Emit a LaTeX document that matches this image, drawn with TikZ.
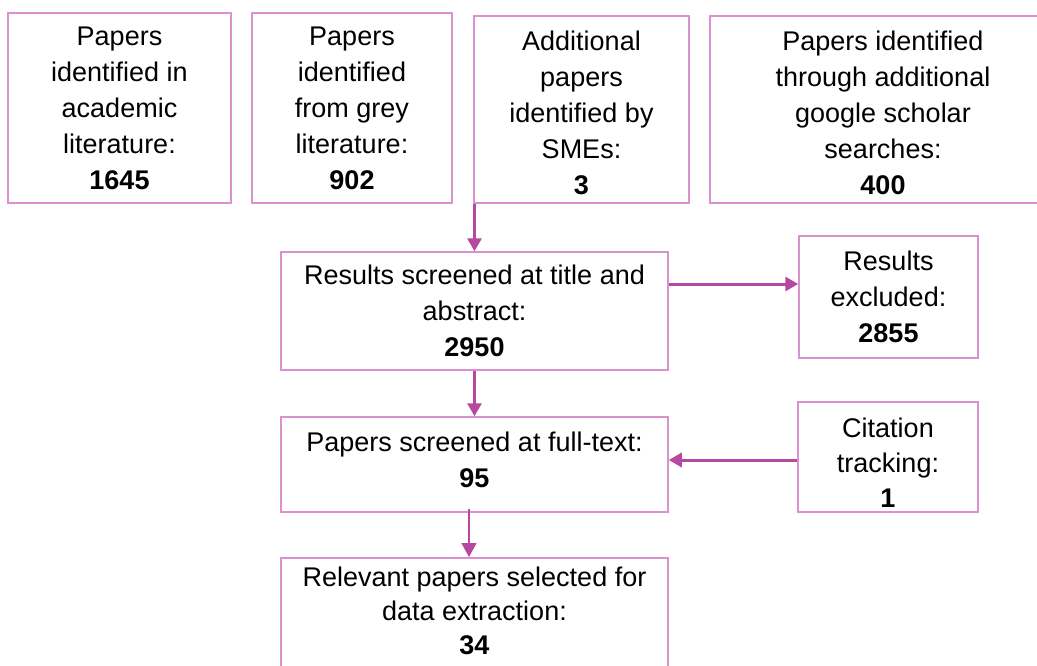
\documentclass[tikz,border=0pt]{standalone}
\usepackage{fontspec}
\setmainfont{Liberation Sans}
\usetikzlibrary{arrows.meta,calc}
\definecolor{boxline}{RGB}{218,145,205}
\definecolor{flowline}{RGB}{182,72,160}
\tikzset{
  box/.style={draw=boxline, line width=1.5pt, rectangle, inner sep=0pt,
    align=center, font=\fontsize{27}{36}\selectfont},
  tight/.style={font=\fontsize{27}{35}\selectfont},
  flow/.style={draw=flowline, line width=3pt,
    -{Triangle[width=14pt,length=13pt]}},
  thinflow/.style={draw=flowline, line width=1.6pt,
    -{Triangle[width=15pt,length=14pt]}},
}
\begin{document}
\begin{tikzpicture}[x=1pt,y=-1pt]
\clip (0,0) rectangle (1037,666);
\fill[white] (0,0) rectangle (1037,666);

% sources
\node[box, minimum width=223pt, minimum height=190pt] (acad) at (119.5,108)
  {Papers\\identified in\\academic\\literature:\\\textbf{1645}};
\node[box, minimum width=200pt, minimum height=190pt] (grey) at (352,108)
  {Papers\\identified\\from grey\\literature:\\\textbf{902}};
\node[box, minimum width=215pt, minimum height=187pt, text height=170pt] (smes) at (581.5,109.5)
  {Additional\\papers\\identified by\\SMEs:\\\textbf{3}};
\node[box, minimum width=346pt, minimum height=187pt, text height=170pt] (scholar) at (883,109.5)
  {Papers identified\\through additional\\google scholar\\searches:\\\textbf{400}};

% screening stages
\node[box, minimum width=387pt, minimum height=118pt] (title) at (474.5,311)
  {Results screened at title and\\abstract:\\\textbf{2950}};
\node[box, minimum width=179pt, minimum height=122pt] (excl) at (888.5,297)
  {Results\\excluded:\\\textbf{2855}};
\node[box, minimum width=387pt, minimum height=95pt, text depth=10pt] (full) at (474.5,464.5)
  {Papers screened at full-text:\\\textbf{95}};
\node[box, tight, minimum width=180pt, minimum height=110pt, text height=100pt] (cite) at (888,457)
  {Citation\\tracking:\\\textbf{1}};
\node[box, minimum width=387pt, minimum height=140pt, anchor=north] (sel) at (474.5,557) {};
\node[align=center, inner sep=0pt, font=\fontsize{27}{34}\selectfont] (seltext) at (474.5,611)
  {Relevant papers selected for\\data extraction:\\\textbf{34}};

% connectors
\draw[flow] (title.north |- smes.south) -- (title.north);
\draw[flow] ([yshift=27pt]title.east) -- ([yshift=27pt]title.east -| excl.west);
\draw[flow] (title.south) -- (full.north);
\draw[flow] ([yshift=-3pt]cite.west) -- ([yshift=-3pt]cite.west -| full.east);
\draw[thinflow] ([xshift=-5.5pt,yshift=4pt]full.south) -- ([xshift=-5.5pt]sel.north);
\end{tikzpicture}
\end{document}
